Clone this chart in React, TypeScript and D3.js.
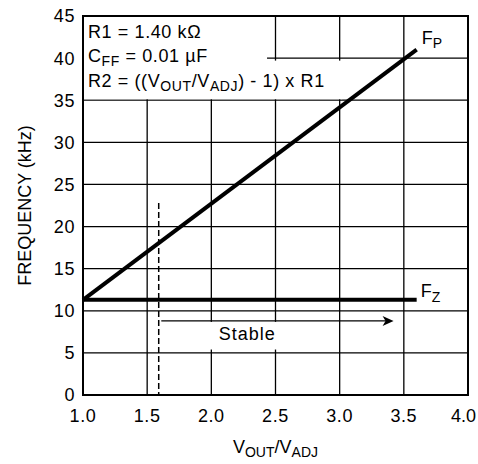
import React from "react";
import * as d3 from "d3";

const xTicks = [1.0, 1.5, 2.0, 2.5, 3.0, 3.5, 4.0];
const yTicks = [0, 5, 10, 15, 20, 25, 30, 35, 40, 45];
const fpX = [1.0, 3.6];
const fpY = [11.3, 41.0];
const fzX = [1.0, 3.6];
const fzY = [11.3, 11.3];
const stableStart = 1.59;
const stableTop = 22.8;
const arrowX = [1.61, 3.42];
const arrowY = 8.8;

const W = 478;
const H = 464;
const M = { left: 83, right: 10, top: 16, bottom: 69 };
const FONT = "'Liberation Sans', Arial, sans-serif";
const FS = 18;
const SUB = 14;
const LS = 0.6;

export default function App() {
  React.useEffect(() => {
    document.body.style.margin = "0";
  }, []);
  const x = d3.scaleLinear().domain([1, 4]).range([M.left, W - M.right]);
  const y = d3.scaleLinear().domain([0, 45]).range([H - M.bottom, M.top]);
  const line = d3
    .line<[number, number]>()
    .x((d) => x(d[0]))
    .y((d) => y(d[1]));
  const fp = fpX.map((v, i) => [v, fpY[i]] as [number, number]);
  const fz = fzX.map((v, i) => [v, fzY[i]] as [number, number]);
  const tipX = x(arrowX[1]);
  const ay = y(arrowY);

  return (
    <svg width={W} height={H} style={{ display: "block", background: "#fff" }} fontFamily={FONT}>
      {/* grid */}
      {xTicks.slice(1, -1).map((t) => (
        <line key={"gx" + t} x1={x(t)} x2={x(t)} y1={y(0)} y2={y(45)} stroke="#000" strokeWidth={1.3} />
      ))}
      {yTicks.slice(1, -1).map((t) => (
        <line key={"gy" + t} x1={x(1)} x2={x(4)} y1={y(t)} y2={y(t)} stroke="#000" strokeWidth={1.3} />
      ))}
      {/* white backgrounds for annotations */}
      <rect x={x(1)} y={y(45)} width={x(2.434) - x(1)} height={y(40) - y(45) + 4} fill="#fff" />
      <rect x={x(1)} y={y(40) + 2.5} width={x(3.02) - x(1)} height={y(35) - y(40) - 3.5} fill="#fff" />
      <rect x={x(1.61)} y={ay + 1} width={x(2.7) - x(1.61)} height={y(5.4) - ay - 1} fill="#fff" />
      {/* frame */}
      <rect x={x(1)} y={y(45)} width={x(4) - x(1)} height={y(0) - y(45)} fill="none" stroke="#000" strokeWidth={2} />
      {/* dashed stable boundary */}
      <line x1={x(stableStart)} x2={x(stableStart)} y1={y(stableTop)} y2={y(0)} stroke="#000" strokeWidth={1.5} strokeDasharray="6,3" />
      {/* stable arrow */}
      <line x1={x(arrowX[0])} x2={tipX - 4} y1={ay} y2={ay} stroke="#000" strokeWidth={1.3} />
      <path d={`M${tipX},${ay} L${tipX - 11},${ay - 5} L${tipX - 8},${ay} L${tipX - 11},${ay + 5} Z`} fill="#000" />
      <text x={x(2.28)} y={340} fontSize={FS} letterSpacing={1} textAnchor="middle" fill="#000">Stable</text>
      {/* lines */}
      <path d={line(fp) || ""} fill="none" stroke="#000" strokeWidth={4} />
      <path d={line(fz) || ""} fill="none" stroke="#000" strokeWidth={4} />
      <text x={x(3.6) + 5} y={44} fontSize={FS} fill="#000">
        F<tspan fontSize={SUB} dy={4}>P</tspan>
      </text>
      <text x={x(3.6) + 4} y={297} fontSize={FS} fill="#000">
        F<tspan fontSize={SUB} dy={5}>Z</tspan>
      </text>
      {/* annotation */}
      <g fontSize={FS} letterSpacing={LS} fill="#000">
        <text x={88} y={38}>R1 = 1.40 kΩ</text>
        <text x={88} y={62}>
          C<tspan fontSize={SUB} dy={4}>FF</tspan>
          <tspan dy={-4}> = 0.01 µF</tspan>
        </text>
        <text x={88} y={87}>
          R2 = ((V<tspan fontSize={SUB} dy={4}>OUT</tspan>
          <tspan dy={-4}>/V</tspan>
          <tspan fontSize={SUB} dy={4}>ADJ</tspan>
          <tspan dy={-4}>) - 1) x R1</tspan>
        </text>
      </g>
      {/* ticks */}
      {yTicks.map((t) => (
        <text key={"yt" + t} x={x(1) - 8} y={y(t)} dy="0.36em" fontSize={FS} letterSpacing={LS} textAnchor="end" fill="#000">
          {t}
        </text>
      ))}
      {xTicks.map((t, i) => {
        const last = i === xTicks.length - 1;
        return (
          <text
            key={"xt" + t}
            x={last ? W - 2 : x(t)}
            y={422}
            fontSize={FS}
            letterSpacing={last ? 0 : LS}
            textAnchor={last ? "end" : "middle"}
            fill="#000"
          >
            {t.toFixed(1)}
          </text>
        );
      })}
      {/* axis labels */}
      <text
        transform={`translate(31,${(y(0) + y(45)) / 2}) rotate(-90)`}
        fontSize={FS}
        textAnchor="middle"
        fill="#000"
      >
        FREQUENCY (kHz)
      </text>
      <text x={(x(1) + x(4)) / 2} y={453} fontSize={FS} textAnchor="middle" fill="#000">
        V<tspan fontSize={SUB} dy={4}>OUT</tspan>
        <tspan dy={-4}>/V</tspan>
        <tspan fontSize={SUB} dy={4}>ADJ</tspan>
      </text>
    </svg>
  );
}
